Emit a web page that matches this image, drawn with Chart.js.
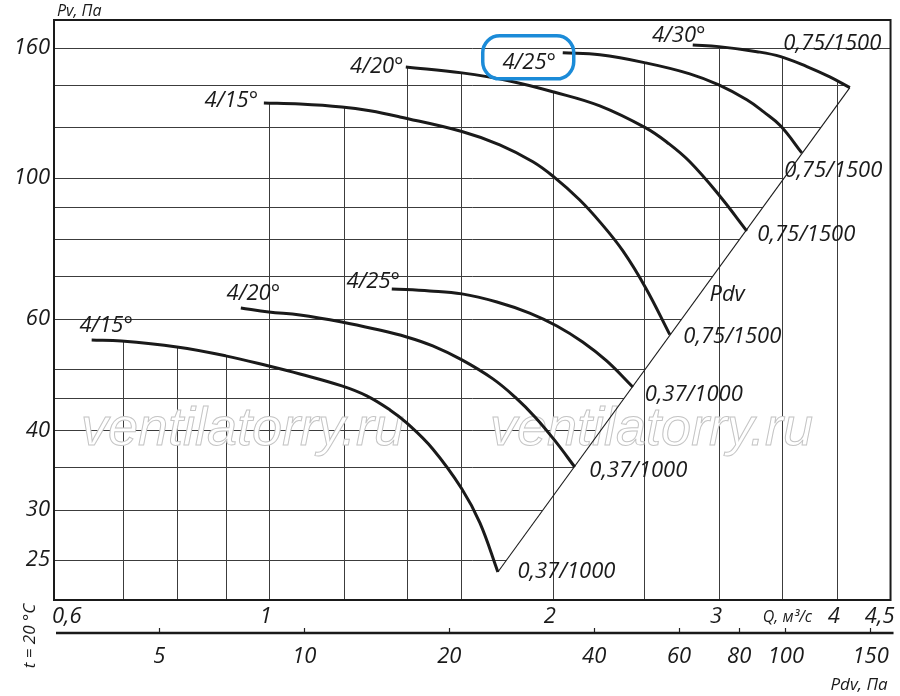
<!DOCTYPE html>
<html lang="ru">
<head>
<meta charset="utf-8">
<title>Аэродинамическая характеристика</title>
<script src="https://cdn.jsdelivr.net/npm/chart.js@4.4.1/dist/chart.umd.min.js"></script>
<style>
html,body{margin:0;padding:0;background:#fff;overflow:hidden;}
canvas{display:block;}
</style>
</head>
<body>
<canvas id="chart" width="900" height="696"></canvas>
<script>
// ---------- data ----------
const qTicks = [0.6, 1, 2, 3, 4, 4.5];
const qGridValues = [0.7, 0.8, 0.9, 1, 1.2, 1.4, 1.6, 2, 2.5, 3, 3.5, 4];
const pvGridValues = [25, 30, 35, 40, 45, 50, 60, 70, 80, 90, 100, 120, 140, 160];
const pvTickLabels = [25, 30, 40, 60, 100, 160];
const pdvTicks = [5, 10, 20, 40, 60, 80, 100, 150];

const curveNames = ['4/15°', '4/20°', '4/25°', '4/15°', '4/20°', '4/25°', '4/30°'];
const motorNames = ['0,37/1000', '0,37/1000', '0,37/1000', '0,75/1500', '0,75/1500', '0,75/1500', '0,75/1500'];

// 0,37 kW / 1000 rpm
const q_1000_15  = [0.649, 0.698, 0.799, 0.900, 1.000, 1.079, 1.195, 1.270, 1.344, 1.400, 1.492, 1.602, 1.674, 1.749];
const pv_1000_15 = [55.5, 55.3, 54.1, 52.4, 50.51, 49.07, 46.99, 45.32, 43.07, 41.09, 37.39, 32.34, 28.59, 23.93];
const q_1000_20  = [0.934, 1.000, 1.079, 1.195, 1.295, 1.400, 1.492, 1.602, 1.728, 1.823, 1.919, 2.015, 2.110];
const pv_1000_20 = [62.35, 61.45, 60.78, 59.26, 57.77, 56.12, 54.32, 51.63, 48.2, 45.15, 41.84, 38.35, 35.02];
const q_1000_25  = [1.350, 1.481, 1.602, 1.745, 1.890, 2.020, 2.151, 2.281, 2.431];
const pv_1000_25 = [66.8, 66.31, 65.6, 63.7, 61.2, 58.4, 55.1, 51.44, 46.8];
// 0,75 kW / 1500 rpm
const q_1500_15  = [0.988, 1.079, 1.195, 1.280, 1.377, 1.602, 1.757, 1.905, 2.005, 2.136, 2.248, 2.373, 2.509, 2.661];
const pv_1500_15 = [131.1, 130.6, 129.2, 127.4, 124.6, 118.2, 112.6, 105.9, 100.25, 92.2, 84.86, 76.66, 67.04, 56.6];
const q_1500_20  = [1.397, 1.602, 1.800, 2.005, 2.243, 2.509, 2.648, 2.794, 3.006, 3.211];
const pv_1500_20 = [149.4, 146.2, 142.0, 136.4, 129.7, 119.75, 113.4, 105.9, 93.56, 82.4];
const q_1500_25  = [2.049, 2.243, 2.509, 2.794, 2.999, 3.211, 3.346, 3.488, 3.672];
const pv_1500_25 = [157.2, 156.1, 151.6, 145.7, 139.95, 132.6, 126.9, 120.6, 109.4];
const q_1500_30  = [2.814, 2.999, 3.291, 3.488, 3.718, 3.932, 4.129];
const pv_1500_30 = [161.8, 160.8, 157.9, 155.1, 149.6, 144.1, 138.6];
// dynamic pressure line Pdv
const pdvLineQ  = [1.749, 4.129];
const pdvLinePv = [23.93, 138.6];
const pdvLabelPos = [3.06, 64];

// axis ranges
const qMin = 0.592, qMax = 4.56;
const pvMin = 21.62, pvMax = 177.1;
const pdvMin = 3.02, pdvMax = 165;

// ---------- styling / placement (not data) ----------
const nameOffsets  = [[14.5,-16],[12.5,-16],[-18.5,-9],[-32.5,-4],[-29,-2],[-33.5,8],[-14,-11]];
const motorOffsets = [[68.5,-2],[63.5,2],[61,6],[62.5,0],[59.5,2],[31.5,16],[-17.5,-46]];
const FONT = '"Open Sans", "DejaVu Sans", sans-serif';
const INK = '#1a1a1a';
const GRID = '#3c3c3c';

const curves = [
  [q_1000_15, pv_1000_15], [q_1000_20, pv_1000_20], [q_1000_25, pv_1000_25],
  [q_1500_15, pv_1500_15], [q_1500_20, pv_1500_20], [q_1500_25, pv_1500_25], [q_1500_30, pv_1500_30]
];
const zip = (xs, ys) => xs.map((x, i) => ({x: x, y: ys[i]}));

const datasets = curves.map((c, i) => ({
  label: curveNames[i] + ' ' + motorNames[i],
  data: zip(c[0], c[1]),
  borderColor: INK,
  borderWidth: 3,
  pointRadius: 0,
  tension: 0.4,
  borderCapStyle: 'butt',
  borderJoinStyle: 'round',
  fill: false
}));
datasets.push({
  label: 'Pdv',
  data: zip(pdvLineQ, pdvLinePv),
  borderColor: INK,
  borderWidth: 1.1,
  pointRadius: 0,
  tension: 0,
  fill: false
});
const CURVE_COUNT = curves.length;
const DIAG = CURVE_COUNT;

function curvePath(chart, ctx, i) {
  const meta = chart.getDatasetMeta(i);
  const pts = meta.data;
  let ok = false;
  try {
    if (meta.dataset && typeof meta.dataset.path === 'function') {
      if (typeof meta.dataset.updateControlPoints === 'function') {
        meta.dataset.updateControlPoints(chart.chartArea, 'x');
      }
      meta.dataset.path(ctx);
      ok = true;
    }
  } catch (e) { ok = false; }
  if (!ok) pts.forEach((p, k) => k ? ctx.lineTo(p.x, p.y) : ctx.moveTo(p.x, p.y));
  return pts;
}

const drawPlugin = {
  id: 'fanChart',
  beforeDatasetsDraw(chart) {
    const ctx = chart.ctx, ca = chart.chartArea;
    const xs = chart.scales.x, ys = chart.scales.y;
    // vertical grid lines: only below the curves
    ctx.save();
    ctx.beginPath();
    for (let i = 0; i < CURVE_COUNT; i++) {
      const pts = curvePath(chart, ctx, i);
      ctx.lineTo(pts[pts.length - 1].x, ca.bottom);
      ctx.lineTo(pts[0].x, ca.bottom);
      ctx.closePath();
    }
    ctx.clip();
    ctx.strokeStyle = GRID;
    ctx.lineWidth = 1;
    ctx.beginPath();
    qGridValues.forEach(v => {
      const x = Math.round(xs.getPixelForValue(v)) + 0.5;
      ctx.moveTo(x, ca.top);
      ctx.lineTo(x, ca.bottom);
    });
    ctx.stroke();
    ctx.restore();

    // horizontal grid lines: only left of the Pdv line
    const d = chart.getDatasetMeta(DIAG).data;
    const A = d[0], B = d[1];
    const c30 = chart.getDatasetMeta(CURVE_COUNT - 1).data;
    const P = c30[c30.length - 2];
    ctx.save();
    ctx.beginPath();
    ctx.rect(ca.left, ca.top, ca.right - ca.left, ca.bottom - ca.top);
    ctx.moveTo(A.x, ca.bottom + 2);
    ctx.lineTo(A.x, A.y);
    ctx.lineTo(B.x, B.y);
    ctx.lineTo(P.x, P.y);
    ctx.lineTo(ca.right + 2, P.y);
    ctx.lineTo(ca.right + 2, ca.bottom + 2);
    ctx.closePath();
    ctx.clip('evenodd');
    ctx.strokeStyle = GRID;
    ctx.lineWidth = 1;
    ctx.beginPath();
    pvGridValues.forEach(v => {
      const y = Math.round(ys.getPixelForValue(v)) + 0.5;
      ctx.moveTo(ca.left, y);
      ctx.lineTo(ca.right, y);
    });
    ctx.stroke();
    ctx.restore();

    // watermark
    ctx.save();
    ctx.font = 'italic 54px "Liberation Sans", Arial, sans-serif';
    ctx.textBaseline = 'alphabetic';
    ctx.textAlign = 'left';
    ctx.fillStyle = '#ffffff';
    ctx.strokeStyle = '#c4c4c4';
    ctx.lineWidth = 1;
    [[81, 445], [490, 445]].forEach(p => {
      ctx.fillText('ventilatorry.ru', p[0], p[1]);
      ctx.strokeText('ventilatorry.ru', p[0], p[1]);
    });
    ctx.restore();
  },
  afterDatasetsDraw(chart) {
    const ctx = chart.ctx, ca = chart.chartArea;
    const xs = chart.scales.x, ys = chart.scales.y, ps = chart.scales.pdv;
    ctx.save();
    ctx.fillStyle = INK;
    ctx.textBaseline = 'alphabetic';
    ctx.textAlign = 'center';
    ctx.font = 'italic 22px ' + FONT;
    for (let i = 0; i < CURVE_COUNT; i++) {
      const pts = chart.getDatasetMeta(i).data;
      const s = pts[0], e = pts[pts.length - 1];
      ctx.fillText(curveNames[i], s.x + nameOffsets[i][0], s.y + nameOffsets[i][1] + 8);
      ctx.fillText(motorNames[i], e.x + motorOffsets[i][0], e.y + motorOffsets[i][1] + 8);
      if (i === 5) {
        ctx.save();
        ctx.strokeStyle = '#1b8bd8';
        ctx.lineWidth = 3.5;
        ctx.beginPath();
        if (ctx.roundRect) ctx.roundRect(s.x - 80, s.y - 17, 91, 43, 17);
        else ctx.rect(s.x - 80, s.y - 17, 91, 43);
        ctx.stroke();
        ctx.restore();
      }
    }
    // Pdv label near the dynamic-pressure line
    ctx.fillText('Pdv', xs.getPixelForValue(pdvLabelPos[0]), ys.getPixelForValue(pdvLabelPos[1]));

    // frame
    ctx.strokeStyle = INK;
    ctx.lineWidth = 2;
    ctx.strokeRect(ca.left, ca.top, ca.right - ca.left, ca.bottom - ca.top);

    // Q axis labels
    ctx.font = 'italic 22px ' + FONT;
    qTicks.forEach((v, i) => {
      const txt = String(v).replace('.', ',');
      let x = xs.getPixelForValue(v) - 3;
      if (i === 0) { ctx.textAlign = 'left'; x = ca.left - 2; }
      else if (i === qTicks.length - 1) { ctx.textAlign = 'right'; x = ca.right + 4; }
      else ctx.textAlign = 'center';
      ctx.fillText(txt, x, xs.top + 23);
    });
    // axis titles
    ctx.font = 'italic 16px ' + FONT;
    ctx.textAlign = 'left';
    ctx.fillText('Q, м³/с', xs.getPixelForValue(4) - 74, xs.top + 22);
    ctx.fillText('Pv, Па', ca.left + 3, ca.top - 4);
    ctx.font = 'italic 17px ' + FONT;
    ctx.textAlign = 'right';
    ctx.fillText('Pdv, Па', ca.right - 3, 690);
    // Pdv axis line
    ctx.lineWidth = 2.5;
    ctx.beginPath();
    ctx.moveTo(ps.left + 2, ps.top + 5);
    ctx.lineTo(ps.right + 3, ps.top + 5);
    ctx.stroke();
    // temperature note
    ctx.save();
    ctx.translate(35, 636);
    ctx.rotate(-Math.PI / 2);
    ctx.font = 'italic 17px ' + FONT;
    ctx.textAlign = 'center';
    ctx.fillText('t = 20 °C', 0, 0);
    ctx.restore();
    ctx.restore();
  }
};

new Chart(document.getElementById('chart'), {
  type: 'line',
  data: { datasets: datasets },
  options: {
    responsive: false,
    animation: false,
    devicePixelRatio: 1,
    layout: { padding: { top: 20, right: 9, bottom: 0, left: 0 } },
    plugins: { legend: { display: false }, tooltip: { enabled: false } },
    scales: {
      x: {
        type: 'logarithmic', position: 'bottom', weight: 0,
        min: qMin, max: qMax,
        grid: { display: false }, border: { display: false },
        ticks: { display: false },
        afterFit: s => { s.height = 28; }
      },
      pdv: {
        type: 'logarithmic', position: 'bottom', axis: 'x', weight: 1,
        min: pdvMin, max: pdvMax,
        border: { display: false },
        grid: { display: true, drawOnChartArea: false, drawTicks: true, tickLength: 5, tickColor: '#222', tickWidth: 1.2 },
        afterBuildTicks: s => { s.ticks = pdvTicks.map(v => ({ value: v })); },
        ticks: {
          autoSkip: false, maxRotation: 0, padding: 11, color: INK,
          font: { family: FONT, size: 22, style: 'italic' },
          callback: v => String(v)
        },
        afterFit: s => { s.height = 68; }
      },
      y: {
        type: 'logarithmic', position: 'left',
        min: pvMin, max: pvMax,
        grid: { display: false, drawTicks: false }, border: { display: false },
        afterBuildTicks: s => { s.ticks = pvGridValues.map(v => ({ value: v })); },
        ticks: {
          autoSkip: false, padding: 4, color: INK,
          font: { family: FONT, size: 22, style: 'italic' },
          callback: v => pvTickLabels.includes(v) ? String(v) : ''
        },
        afterFit: s => { s.width = 54; }
      }
    }
  },
  plugins: [drawPlugin]
});
</script>
</body>
</html>
